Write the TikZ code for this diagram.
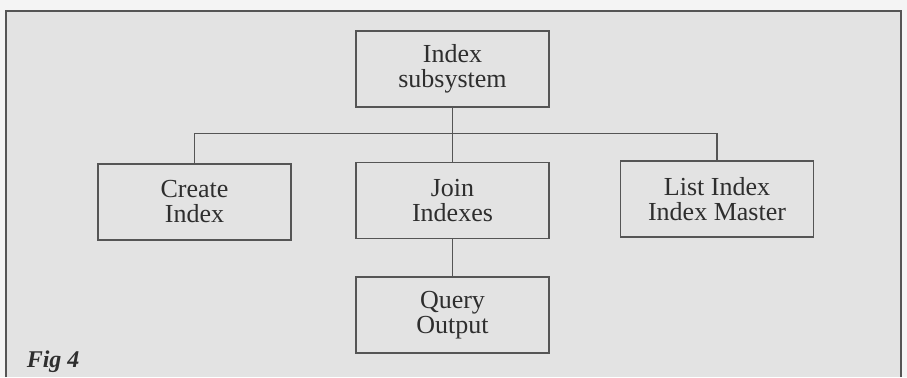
\documentclass[tikz,border=0pt]{standalone}
\usepackage{fontspec}
\setmainfont{Liberation Serif}
\definecolor{paper}{HTML}{F4F4F4}
\definecolor{panel}{HTML}{E3E3E3}
\definecolor{ink}{HTML}{555555}
\definecolor{txt}{HTML}{2E2E2E}

\begin{document}
\begin{tikzpicture}[x=0.5pt,y=-0.5pt,line width=0.8pt,
  box/.style={draw=ink,fill=panel,minimum width=96.5pt,minimum height=38pt,
    align=center,text=txt,font=\fontsize{13pt}{12.5pt}\selectfont}]
  \useasboundingbox (0,0) rectangle (907,377);
  \fill[paper] (0,0) rectangle (907,377);
  % panel with open bottom edge
  \fill[panel] (6,11) rectangle (901,377);
  \draw[ink,line width=1pt] (6,377) -- (6,11) -- (901,11) -- (901,377);
  % boxes
  \node[box] (top) at (452.5,69) {Index\\subsystem};
  \node[box] (create) at (194.5,202) {Create\\Index};
  \node[box] (join) at (452.5,200.5) {Join\\Indexes};
  \node[box] (list) at (717,199) {List Index\\Index Master};
  \node[box] (query) at (452.5,315) {Query\\Output};
  \coordinate (bar) at (452.5,133.5);
  % connectors
  \draw[ink] (top) -- (join);
  \draw[ink] (create.north) |- (bar) -| (list.north);
  \draw[ink] (join) -- (query);
  % caption
  \node[anchor=base west,inner sep=0pt,text=txt,
    font=\fontsize{12pt}{14pt}\selectfont\bfseries\itshape] (fig) at (26,367) {Fig 4};
\end{tikzpicture}
\end{document}
